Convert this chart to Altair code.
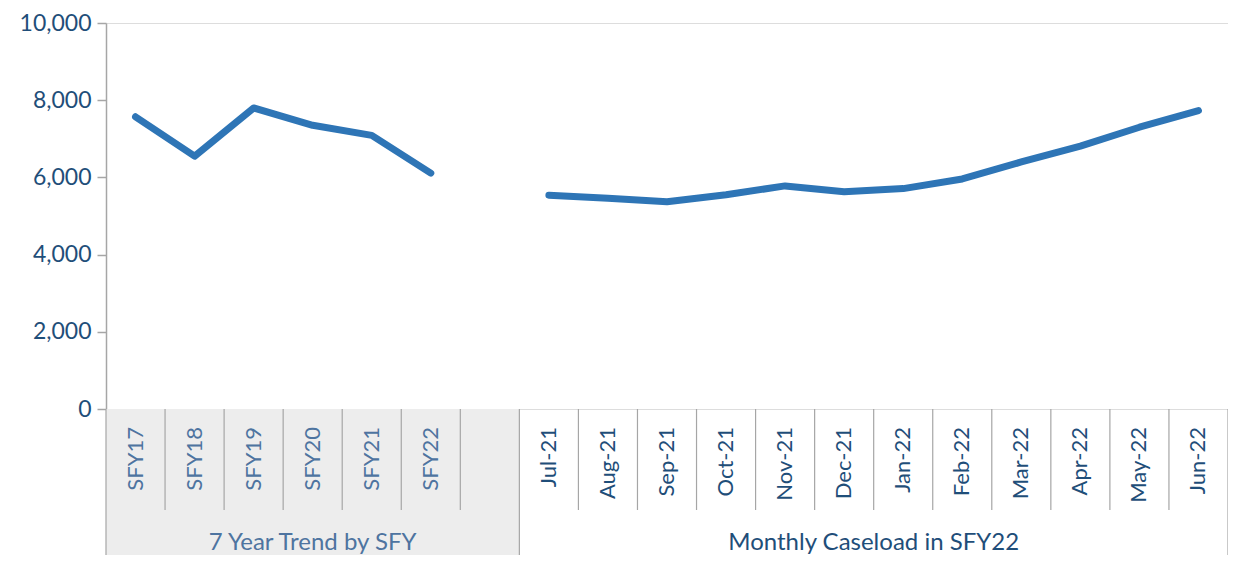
import altair as alt
import pandas as pd

# ---- data ----
sfy_labels = ["SFY17", "SFY18", "SFY19", "SFY20", "SFY21", "SFY22"]
sfy_values = [7570, 6550, 7800, 7350, 7090, 6110]
month_labels = ["Jul-21", "Aug-21", "Sep-21", "Oct-21", "Nov-21", "Dec-21",
                "Jan-22", "Feb-22", "Mar-22", "Apr-22", "May-22", "Jun-22"]
month_values = [5540, 5460, 5370, 5550, 5780, 5630, 5710, 5960, 6400, 6810, 7300, 7730]
group_labels = ["7 Year Trend by SFY", "Monthly Caseload in SFY22"]
y_ticks = [0, 2000, 4000, 6000, 8000, 10000]

W, H = 1122, 386
FONT = "Lato"
LINE_COLOR = "#2E75B6"
DARK = "#1F4E79"
LIGHT = "#4E74A0"
GRID = "#A6A6A6"

n_sfy = len(sfy_labels)
slot_months0 = n_sfy + 1          # one empty slot after the SFY group
n_slots = slot_months0 + len(month_labels)

rows = []
for i, (lab, v) in enumerate(zip(sfy_labels, sfy_values)):
    rows.append({"pos": i + 0.5, "label": lab, "value": v, "grp": "sfy"})
for j, (lab, v) in enumerate(zip(month_labels, month_values)):
    rows.append({"pos": slot_months0 + j + 0.5, "label": lab, "value": v, "grp": "month"})
df = pd.DataFrame(rows)

xscale = alt.Scale(domain=[0, n_slots], nice=False, zero=False)
yscale = alt.Scale(domain=[0, 10000], nice=False)

x_enc = alt.X("pos:Q", scale=xscale,
              axis=alt.Axis(labels=False, ticks=False, grid=False, title=None,
                            domain=True, domainColor=GRID, domainWidth=1.5))

# gray background for the SFY group category area
bg = alt.Chart(pd.DataFrame({"a": [0], "b": [slot_months0]})).mark_rect(
    color="#EDEDED").encode(
    x=alt.X("a:Q", scale=xscale, axis=None), x2="b:Q",
    y=alt.value(H), y2=alt.value(H + 160))

# separators
short_b = [b for b in range(1, n_slots) if b != slot_months0]
long_b = [0, slot_months0, n_slots]
sep_short = alt.Chart(pd.DataFrame({"b": short_b})).mark_rule(
    color=GRID, strokeWidth=1.2).encode(
    x=alt.X("b:Q", scale=xscale, axis=None),
    y=alt.value(H), y2=alt.value(H + 101))
sep_long = alt.Chart(pd.DataFrame({"b": long_b})).mark_rule(
    color=GRID, strokeWidth=1.2).encode(
    x=alt.X("b:Q", scale=xscale, axis=None),
    y=alt.value(H), y2=alt.value(H + 160))

line = alt.Chart(df).mark_line(
    color=LINE_COLOR, strokeWidth=7, strokeCap="round", strokeJoin="round").encode(
    x=x_enc,
    y=alt.Y("value:Q", scale=yscale,
            axis=alt.Axis(values=y_ticks, format=",.0f", title=None, grid=False,
                          labelFontSize=23, labelColor=DARK, labelFont=FONT,
                          labelPadding=6, tickSize=9, tickColor=GRID,
                          domainColor=GRID, domainWidth=1.5, tickWidth=1.5)),
    detail="grp:N")

cat_sfy = alt.Chart(df[df.grp == "sfy"]).mark_text(
    angle=270, align="right", baseline="middle", font=FONT, fontSize=22,
    color=LIGHT).encode(
    x=alt.X("pos:Q", scale=xscale, axis=None), y=alt.value(H + 18), text="label:N")
cat_month = alt.Chart(df[df.grp == "month"]).mark_text(
    angle=270, align="right", baseline="middle", font=FONT, fontSize=22,
    color=DARK).encode(
    x=alt.X("pos:Q", scale=xscale, axis=None), y=alt.value(H + 18), text="label:N")

grp_df = pd.DataFrame({"pos": [slot_months0 / 2, (slot_months0 + n_slots) / 2],
                       "label": group_labels,
                       "col": [LIGHT, DARK]})
grp_text = alt.Chart(grp_df).mark_text(
    align="center", baseline="middle", font=FONT, fontSize=24).encode(
    x=alt.X("pos:Q", scale=xscale, axis=None), y=alt.value(H + 134),
    text="label:N", color=alt.Color("col:N", scale=None))

chart = alt.layer(bg, sep_short, sep_long, line, cat_sfy, cat_month, grp_text).properties(
    width=W, height=H,
    autosize=alt.AutoSizeParams(type="none"),
    padding={"left": 98, "top": 15, "right": 0, "bottom": 146},
).configure_view(stroke="transparent", strokeWidth=0).configure_axis(
    grid=False).configure(font=FONT)

chart.save("out.html", embed_options={"renderer": "svg", "actions": False})
